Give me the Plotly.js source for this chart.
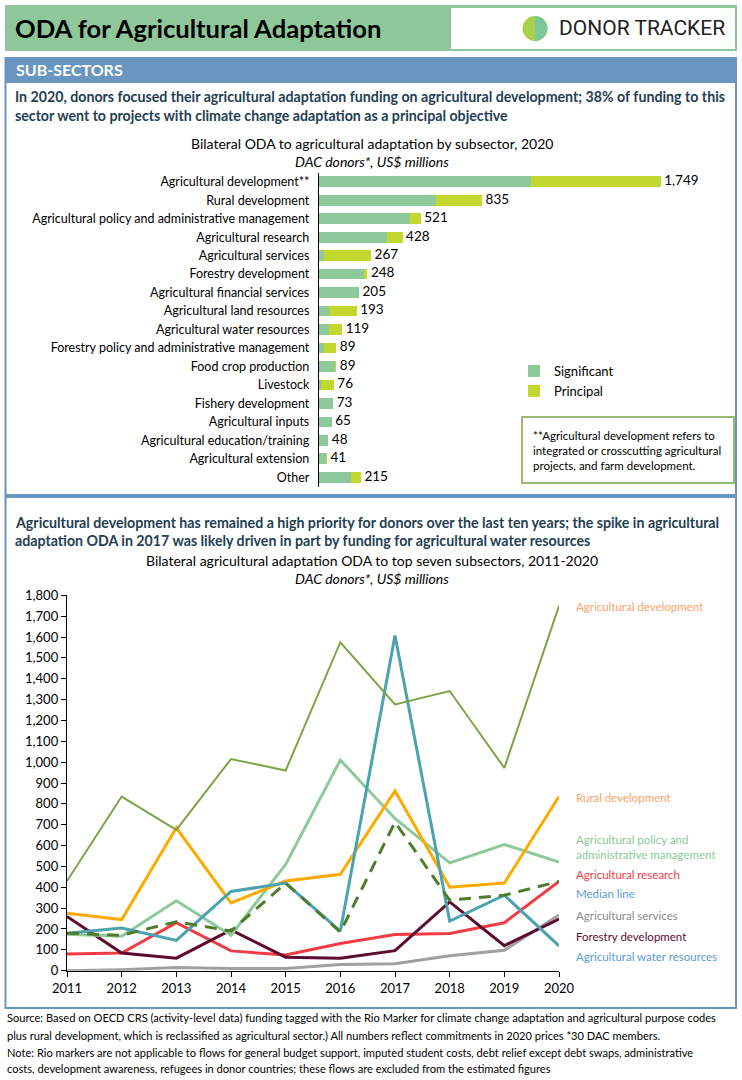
<!DOCTYPE html>
<html>
<head>
<meta charset="utf-8">
<script src="https://cdn.plot.ly/plotly-3.0.1.min.js"></script>
<style>
  html, body { margin: 0; padding: 0; background: #ffffff; }
  #chart { width: 742px; height: 1080px; }
</style>
</head>
<body>
<div id="chart"></div>
<script>
// ---------- Data: bar chart (2020, US$ millions) ----------
const subsectors = [
  "Agricultural development**",
  "Rural development",
  "Agricultural policy and administrative management",
  "Agricultural research",
  "Agricultural services",
  "Forestry development",
  "Agricultural financial services",
  "Agricultural land resources",
  "Agricultural water resources",
  "Forestry policy and administrative management",
  "Food crop production",
  "Livestock",
  "Fishery development",
  "Agricultural inputs",
  "Agricultural education/training",
  "Agricultural extension",
  "Other"
];
const significant = [1084, 600, 467, 348, 26, 230, 205, 51, 53, 27, 84, 10, 73, 65, 48, 36, 162];
const principal   = [ 665, 235,  54,  80, 241, 18,   0, 142, 66, 62,  5, 66,  0,  0,  0,  5,  53];
const totals      = [1749, 835, 521, 428, 267, 248, 205, 193, 119, 89, 89, 76, 73, 65, 48, 41, 215];

// ---------- Data: line chart (2011-2020, US$ millions) ----------
const years = [2011, 2012, 2013, 2014, 2015, 2016, 2017, 2018, 2019, 2020];
const agriDevelopment   = [430, 835, 675, 1015, 960, 1575, 1277, 1341, 972, 1749];
const ruralDevelopment  = [275, 245, 685, 325, 430, 462, 862, 400, 420, 835];
const agriPolicy        = [175, 165, 335, 170, 510, 1010, 730, 517, 605, 521];
const medianLine        = [180, 170, 235, 190, 420, 185, 712, 338, 362, 428];
const agriResearch      = [80, 85, 230, 95, 75, 130, 174, 178, 230, 428];
const agriWater         = [180, 205, 145, 380, 420, 190, 1607, 238, 362, 119];
const agriServices      = [0, 5, 15, 10, 10, 30, 33, 72, 98, 267];
const forestryDev       = [260, 85, 60, 195, 65, 60, 96, 330, 120, 248];

// ---------- helpers (pixel -> paper) ----------
const W = 742, H = 1080;
const px = x => x / W;
const py = y => 1 - y / H;
const FONT = "Lato, 'Open Sans', sans-serif";

const traces = [];

traces.push({
  type: 'bar', orientation: 'h', name: 'Significant',
  x: significant, y: subsectors, xaxis: 'x', yaxis: 'y',
  marker: { color: '#8DC99A' }, hoverinfo: 'x+y'
});
traces.push({
  type: 'bar', orientation: 'h', name: 'Principal',
  x: principal, y: subsectors, xaxis: 'x', yaxis: 'y',
  marker: { color: '#C3D82E' }, hoverinfo: 'x+y'
});
traces.push({
  type: 'scatter', mode: 'text', showlegend: false,
  x: totals, y: subsectors, xaxis: 'x', yaxis: 'y',
  text: totals.map(v => '\u00a0' + v.toLocaleString('en-US')),
  textposition: 'middle right', cliponaxis: false,
  textfont: { family: FONT, size: 13.5, color: '#000' }, hoverinfo: 'skip'
});

const lineSeries = [
  { name: 'Agricultural services', y: agriServices, color: '#A0A0A0', width: 3 },
  { name: 'Agricultural research', y: agriResearch, color: '#F23B44', width: 3 },
  { name: 'Forestry development', y: forestryDev, color: '#5E0B30', width: 3 },
  { name: 'Agricultural policy and administrative management', y: agriPolicy, color: '#8DC99A', width: 3 },
  { name: 'Rural development', y: ruralDevelopment, color: '#FFAA00', width: 3 },
  { name: 'Agricultural water resources', y: agriWater, color: '#4BA2B1', width: 3 },
  { name: 'Median line', y: medianLine, color: '#4E7D2B', width: 3, dash: '12px,8px' },
  { name: 'Agricultural development', y: agriDevelopment, color: '#7BA545', width: 2 }
];
lineSeries.forEach(s => {
  traces.push({
    type: 'scatter', mode: 'lines', name: s.name, showlegend: false,
    x: years, y: s.y, xaxis: 'x2', yaxis: 'y2', cliponaxis: false,
    line: { color: s.color, width: s.width, dash: s.dash || 'solid' }
  });
});

// ---------- annotations ----------
const ann = [];
function txt(x, y, text, opts) {
  opts = opts || {};
  ann.push({
    xref: 'paper', yref: 'paper', x: px(x), y: py(y), text: text,
    showarrow: false, xanchor: opts.xanchor || 'left', yanchor: 'middle',
    align: opts.align || 'left',
    font: { family: opts.family || FONT, size: opts.size || 13, color: opts.color || '#000',
            weight: opts.weight || 'normal', style: opts.style || 'normal' }
  });
}
const BODY = 14.2, TITLE = 14;
// header
txt(13, 28, 'ODA for Agricultural Adaptation', { size: 25.6, weight: 'bold', color: '#000' });
txt(557, 28, 'DONOR TRACKER', { size: 21, family: "Roboto, sans-serif", color: '#222' });
txt(14, 70, 'SUB-SECTORS', { size: 16, weight: 'bold', color: '#fff' });
// section 1
txt(13, 97, 'In 2020, donors focused their agricultural adaptation funding on agricultural development; 38% of funding to this', { size: BODY, weight: 'bold', color: '#243E52' });
txt(13, 116, 'sector went to projects with climate change adaptation as a principal objective', { size: BODY, weight: 'bold', color: '#243E52' });
txt(372, 144, 'Bilateral ODA to agricultural adaptation by subsector, 2020', { xanchor: 'center', size: TITLE });
txt(372, 161, 'DAC donors*, US$ millions', { xanchor: 'center', style: 'italic', size: TITLE });
txt(531, 435, '**Agricultural development refers to', { size: 11.5 });
txt(531, 450, 'integrated or crosscutting agricultural', { size: 11.5 });
txt(531, 465, 'projects, and farm development.', { size: 11.5 });
// section 2
txt(13, 522, 'Agricultural development has remained a high priority for donors over the last ten years; the spike in agricultural', { size: BODY, weight: 'bold', color: '#243E52' });
txt(13, 540, 'adaptation ODA in 2017 was likely driven in part by funding for agricultural water resources', { size: BODY, weight: 'bold', color: '#243E52' });
txt(372, 560, 'Bilateral agricultural adaptation ODA to top seven subsectors, 2011-2020', { xanchor: 'center', size: TITLE });
txt(372, 578, 'DAC donors*, US$ millions', { xanchor: 'center', style: 'italic', size: TITLE });
// line labels
const LBL = 11.5;
txt(574, 606, 'Agricultural development', { size: LBL, color: '#F9A46A' });
txt(574, 797, 'Rural development', { size: LBL, color: '#F9A46A' });
txt(574, 839, 'Agricultural policy and', { size: LBL, color: '#8DC99A' });
txt(574, 854, 'administrative management', { size: LBL, color: '#8DC99A' });
txt(574, 874, 'Agricultural research', { size: LBL, color: '#F23B44' });
txt(574, 894, 'Median line', { size: LBL, color: '#5B9BD5' });
txt(574, 915, 'Agricultural services', { size: LBL, color: '#8C8C8C' });
txt(574, 936, 'Forestry development', { size: LBL, color: '#5E0B30' });
txt(574, 956, 'Agricultural water resources', { size: LBL, color: '#5B9BD5' });
// footer
const FT = 11.1;
txt(5, 1018, 'Source: Based on OECD CRS (activity-level data) funding tagged with the Rio Marker for climate change adaptation and agricultural purpose codes', { size: FT });
txt(5, 1035, 'plus rural development, which is reclassified as agricultural sector.) All numbers reflect commitments in 2020 prices *30 DAC members.', { size: FT });
txt(5, 1052, 'Note: Rio markers are not applicable to flows for general budget support, imputed student costs, debt relief except debt swaps, administrative', { size: FT });
txt(5, 1068, 'costs, development awareness, refugees in donor countries; these flows are excluded from the estimated figures', { size: FT });

// ---------- shapes ----------
function rect(x0, y0, x1, y1, fill, line, lw) {
  return { type: 'rect', xref: 'paper', yref: 'paper', x0: px(x0), x1: px(x1), y0: py(y1), y1: py(y0),
           fillcolor: fill || 'rgba(0,0,0,0)', line: { color: line || 'rgba(0,0,0,0)', width: lw || 0 }, layer: 'below' };
}
const shapes = [
  rect(5, 5, 737, 51, '#8EC89A'),
  rect(451, 8, 735, 49, '#ffffff'),
  rect(5.5, 58, 736, 495, null, '#6896C0', 2),
  rect(5, 58, 737, 83, '#6896C0'),
  rect(5.5, 497, 736, 1008, null, '#6896C0', 2),
  rect(522, 417, 734, 483, null, '#77A33F', 1.5)
];
// logo: circle with two tones
const cx = 535, cy = 28.5, r = 12.5;
shapes.push({ type: 'circle', xref: 'paper', yref: 'paper', x0: px(cx - r), x1: px(cx + r), y0: py(cy + r), y1: py(cy - r),
  fillcolor: '#A9D04A', line: { width: 0 }, layer: 'above' });
const k = 0.5523 * r;
const rightHalf = 'M ' + px(cx) + ' ' + py(cy - r) +
  ' C ' + px(cx + k) + ' ' + py(cy - r) + ' ' + px(cx + r) + ' ' + py(cy - k) + ' ' + px(cx + r) + ' ' + py(cy) +
  ' C ' + px(cx + r) + ' ' + py(cy + k) + ' ' + px(cx + k) + ' ' + py(cy + r) + ' ' + px(cx) + ' ' + py(cy + r) + ' Z';
shapes.push({ type: 'path', xref: 'paper', yref: 'paper', path: rightHalf, fillcolor: '#7CC79A', line: { width: 0 }, layer: 'above' });

const axFont = { family: FONT, size: 12.5, color: '#000' };
const layout = {
  width: W, height: H,
  margin: { l: 0, r: 0, t: 0, b: 0 },
  paper_bgcolor: '#ffffff', plot_bgcolor: 'rgba(0,0,0,0)',
  font: { family: FONT, color: '#000' },
  barmode: 'stack', bargap: 0.42,
  showlegend: true,
  legend: { x: px(514), y: py(356), xanchor: 'left', yanchor: 'top', bgcolor: 'rgba(0,0,0,0)',
            font: { family: FONT, size: 13, color: '#000' }, traceorder: 'normal', tracegroupgap: 2, itemwidth: 30 },
  xaxis: { domain: [px(319), px(700)], range: [0, 1950], visible: false, fixedrange: true },
  yaxis: { domain: [py(486.5), py(172.5)], type: 'category', range: [16.5, -0.5], autorange: false,
           showline: true, linecolor: '#000', linewidth: 1.2, ticks: '', showgrid: false, zeroline: false,
           tickfont: axFont, ticklabelstandoff: 6, anchor: 'x', fixedrange: true },
  xaxis2: { domain: [px(67), px(559)], range: [2011, 2020], anchor: 'y2', tickvals: years,
            showline: true, linecolor: '#000', linewidth: 1.2, ticks: 'outside', ticklen: 5, tickcolor: '#000',
            showgrid: false, zeroline: false, tickfont: { family: FONT, size: 13, color: '#000' }, fixedrange: true },
  yaxis2: { domain: [py(970.7), py(595.3)], range: [0, 1800], anchor: 'x2', dtick: 100, tickformat: ',',
            showline: true, linecolor: '#000', linewidth: 1.2, ticks: 'outside', ticklen: 5, tickcolor: '#000',
            showgrid: false, zeroline: false, tickfont: { family: FONT, size: 13, color: '#000' }, fixedrange: true },
  annotations: ann,
  shapes: shapes
};

Plotly.newPlot('chart', traces, layout, { displayModeBar: false, staticPlot: true });
</script>
</body>
</html>
